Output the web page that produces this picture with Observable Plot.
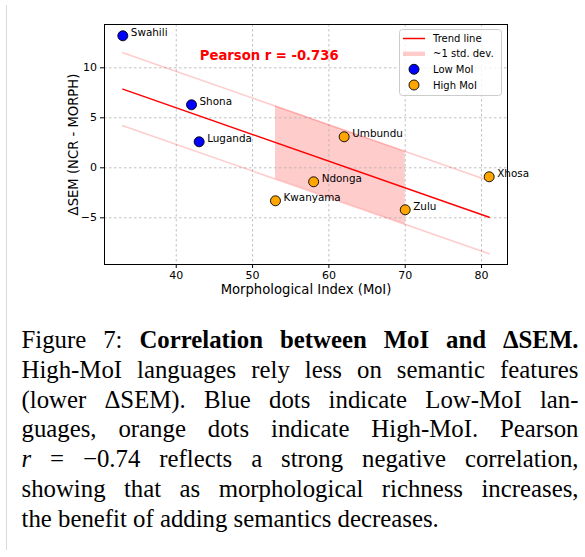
<!DOCTYPE html>
<html><head><meta charset="utf-8">
<script src="https://cdn.jsdelivr.net/npm/d3@7"></script>
<script src="https://cdn.jsdelivr.net/npm/@observablehq/plot@0.6"></script>
<style>
html,body{margin:0;padding:0;background:#fff;}
#wrap{position:relative;width:585px;height:557px;overflow:hidden;background:#fff;}
#edge{position:absolute;left:6px;top:5px;width:1px;height:545px;background:#d9d9d9;}
#chart{position:absolute;left:0;top:0;}
#legend{position:absolute;left:399px;top:29px;}
#caption{position:absolute;left:21.5px;top:325px;width:557px;font-family:"Liberation Serif","Times New Roman",serif;font-size:24.8px;line-height:29.8px;color:#000;}
#caption .l{text-align:justify;text-align-last:justify;}
#caption .last{text-align:left;}
</style>
</head><body>
<div id="wrap">
  <div id="edge"></div>
  <div id="chart"></div>
  <svg id="legend" width="104" height="68"></svg>
  <div id="caption">
    <div class="l">Figure 7: <b>Correlation between MoI and ΔSEM.</b></div>
    <div class="l">High-MoI languages rely less on semantic features</div>
    <div class="l">(lower ΔSEM). Blue dots indicate Low-MoI lan-</div>
    <div class="l">guages, orange dots indicate High-MoI. Pearson</div>
    <div class="l"><i>r</i> = −0.74 reflects a strong negative correlation,</div>
    <div class="l">showing that as morphological richness increases,</div>
    <div class="last">the benefit of adding semantics decreases.</div>
  </div>
</div>
<script>
const languages = ["Swahili","Shona","Luganda","Kwanyama","Ndonga","Umbundu","Zulu","Xhosa"];
const moi = [33, 42, 43, 53, 58, 62, 70, 81];
const deltaSem = [13.2, 6.3, 2.6, -3.3, -1.4, 3.1, -4.2, -0.9];
const groups = ["Low MoI","Low MoI","Low MoI","High MoI","High MoI","High MoI","High MoI","High MoI"];
const groupNames = ["Low MoI","High MoI"];
const groupColors = ["#0000ff","#ffa500"];
const bandRange = [53, 70];
const xTicks = [40, 50, 60, 70, 80];
const yTicks = [-5, 0, 5, 10];
const pearsonLabel = "Pearson r = -0.736";
const xLabel = "Morphological Index (MoI)";
const yLabel = "ΔSEM (NCR - MORPH)";
const legendLabels = ["Trend line","~1 std. dev.","Low MoI","High MoI"];

const data = languages.map((name,i)=>({name, x:moi[i], y:deltaSem[i], group:groups[i]}));

// least-squares trend and residual std. dev. from the data
const mx = d3.mean(moi), my = d3.mean(deltaSem);
const slope = d3.sum(moi,(x,i)=>(x-mx)*(deltaSem[i]-my)) / d3.sum(moi,x=>(x-mx)**2);
const intercept = my - slope*mx;
const fit = x => intercept + slope*x;
const sd = Math.sqrt(d3.mean(moi,(x,i)=>(deltaSem[i]-fit(x))**2));
const trend = d3.extent(moi).map(x=>({x, y:fit(x), lo:fit(x)-sd, hi:fit(x)+sd}));
const band = bandRange.map(x=>({x, lo:fit(x)-sd, hi:fit(x)+sd}));

const fmt = d => d < 0 ? "\u2212" + Math.abs(d) : String(d);
const grid = {stroke:"#b0b0b0", strokeOpacity:1, strokeWidth:0.8, strokeDasharray:"2.5,2.5"};

const chart = Plot.plot({
  width: 585, height: 305,
  marginLeft: 104, marginRight: 78, marginTop: 24, marginBottom: 41,
  style: {fontFamily:"DejaVu Sans", fontSize:"11px", color:"black", background:"transparent"},
  x: {domain:[30.6, 83.4], label:null},
  y: {domain:[-9.67, 14.33], label:null},
  color: {domain: groupNames, range: groupColors},
  marks: [
    Plot.areaY(band, {x:"x", y1:"lo", y2:"hi", fill:"red", fillOpacity:0.2}),
    Plot.gridX(xTicks, grid),
    Plot.gridY(yTicks, grid),
    Plot.line(trend, {x:"x", y:"hi", stroke:"red", strokeOpacity:0.2, strokeWidth:1.6}),
    Plot.line(trend, {x:"x", y:"lo", stroke:"red", strokeOpacity:0.2, strokeWidth:1.6}),
    Plot.line(trend, {x:"x", y:"y", stroke:"red", strokeWidth:1.5}),
    Plot.dot(data, {x:"x", y:"y", r:5, fill:"group", stroke:"black", strokeWidth:0.9}),
    Plot.text(data, {x:"x", y:"y", text:"name", dx:8, dy:-3.5, textAnchor:"start", fontSize:10.4, fill:"black"}),
    Plot.text([pearsonLabel], {text:d=>d, frameAnchor:"top-left", dx:95.3, dy:31.7, textAnchor:"start", lineAnchor:"middle", fontSize:13.2, fontWeight:"bold", fill:"red"}),
    Plot.frame({stroke:"black", strokeWidth:1}),
    Plot.axisX(xTicks, {tickSize:4, tickPadding:3, fontSize:11, tickFormat:fmt, label:null}),
    Plot.axisY(yTicks, {tickSize:4, tickPadding:3.5, fontSize:11, tickFormat:fmt, label:null}),
    Plot.text([xLabel], {text:d=>d, frameAnchor:"bottom", dy:25.5, textAnchor:"middle", lineAnchor:"middle", fontSize:13.2, fill:"black"}),
    Plot.text([yLabel], {text:d=>d, frameAnchor:"left", dx:-31, rotate:-90, textAnchor:"middle", lineAnchor:"middle", fontSize:13.2, fill:"black"})
  ]
});
document.getElementById("chart").appendChild(chart);

// legend
const lg = d3.select("#legend");
lg.append("rect").attr("x",0.5).attr("y",0.5).attr("width",102).attr("height",66).attr("rx",3)
  .attr("fill","white").attr("fill-opacity",0.8).attr("stroke","#cccccc");
const rowY = [9.5, 24.8, 40.3, 56];
lg.append("line").attr("x1",4).attr("x2",26).attr("y1",rowY[0]).attr("y2",rowY[0]).attr("stroke","red").attr("stroke-width",1.5);
lg.append("line").attr("x1",4).attr("x2",26).attr("y1",rowY[1]).attr("y2",rowY[1]).attr("stroke","red").attr("stroke-opacity",0.2).attr("stroke-width",4.5);
lg.append("circle").attr("cx",15).attr("cy",rowY[2]).attr("r",5).attr("fill",groupColors[0]).attr("stroke","black").attr("stroke-width",0.9);
lg.append("circle").attr("cx",15).attr("cy",rowY[3]).attr("r",5).attr("fill",groupColors[1]).attr("stroke","black").attr("stroke-width",0.9);
legendLabels.forEach((t,i)=>{
  lg.append("text").attr("x",34).attr("y",rowY[i]).attr("dy","0.35em").attr("font-family","DejaVu Sans").attr("font-size",10).attr("fill","black").text(t);
});
</script>
</body></html>
